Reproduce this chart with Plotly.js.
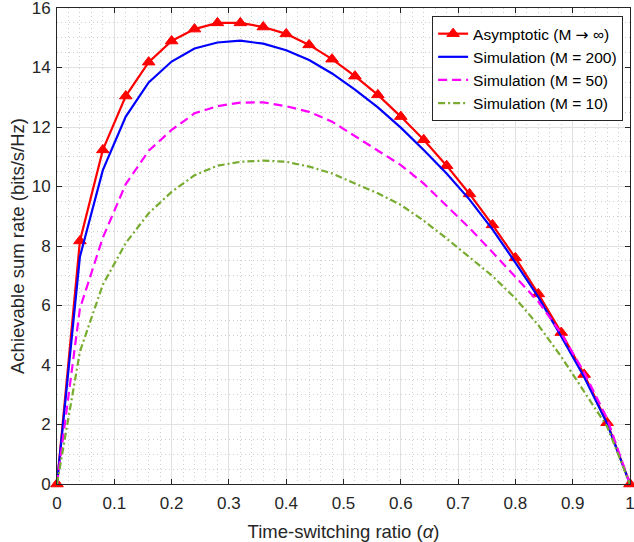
<!DOCTYPE html>
<html>
<head>
<meta charset="utf-8">
<script src="https://cdn.plot.ly/plotly-3.0.1.min.js"></script>
<style>html,body{margin:0;padding:0;background:#fff;} #chart{width:634px;height:542px;}</style>
</head>
<body>
<div id="chart"></div>
<script>
const alpha = [0, 0.04, 0.08, 0.12, 0.16, 0.20, 0.24, 0.28, 0.32, 0.36, 0.40, 0.44, 0.48, 0.52, 0.56, 0.60, 0.64, 0.68, 0.72, 0.76, 0.80, 0.84, 0.88, 0.92, 0.96, 1.00];
const asymptotic = [0, 8.17, 11.23, 13.04, 14.18, 14.89, 15.29, 15.50, 15.50, 15.36, 15.13, 14.76, 14.28, 13.71, 13.08, 12.35, 11.57, 10.70, 9.75, 8.71, 7.60, 6.39, 5.09, 3.68, 2.06, 0];
const simM200 = [0, 7.64, 10.55, 12.35, 13.50, 14.20, 14.64, 14.84, 14.90, 14.80, 14.58, 14.25, 13.80, 13.26, 12.66, 11.98, 11.23, 10.44, 9.56, 8.56, 7.44, 6.28, 4.96, 3.60, 2.03, 0];
const simM50 = [0, 5.90, 8.28, 10.08, 11.20, 11.90, 12.46, 12.70, 12.82, 12.83, 12.70, 12.51, 12.18, 11.70, 11.23, 10.72, 10.10, 9.35, 8.60, 7.79, 6.97, 6.13, 5.06, 3.75, 2.20, 0];
const simM10 = [0, 4.45, 6.70, 8.10, 9.10, 9.82, 10.38, 10.70, 10.83, 10.87, 10.83, 10.67, 10.44, 10.11, 9.77, 9.38, 8.85, 8.25, 7.62, 6.99, 6.24, 5.34, 4.28, 3.10, 1.93, 0];
const seriesNames = ['Asymptotic (M <span style="font-family:DejaVu Sans">\u2192</span> \u221E)', 'Simulation (M = 200)', 'Simulation (M = 50)', 'Simulation (M = 10)'];
const yTicks = [0, 2, 4, 6, 8, 10, 12, 14, 16];
const xTicks = [0, 0.1, 0.2, 0.3, 0.4, 0.5, 0.6, 0.7, 0.8, 0.9, 1];
const xTickText = ['0', '0.1', '0.2', '0.3', '0.4', '0.5', '0.6', '0.7', '0.8', '0.9', '1'];

const traces = [
  {x: alpha, y: asymptotic, name: seriesNames[0], type: 'scatter', mode: 'lines+markers', cliponaxis: false,
   line: {color: '#FF0000', width: 2.2}, marker: {symbol: 'triangle-up', size: 11, color: '#FF0000', line: {color: '#FF0000', width: 1}}},
  {x: alpha, y: simM200, name: seriesNames[1], type: 'scatter', mode: 'lines', cliponaxis: false,
   line: {color: '#0000FF', width: 2.2}},
  {x: alpha, y: simM50, name: seriesNames[2], type: 'scatter', mode: 'lines', cliponaxis: false,
   line: {color: '#FF00FF', width: 2.2, dash: '9px,5px'}},
  {x: alpha, y: simM10, name: seriesNames[3], type: 'scatter', mode: 'lines', cliponaxis: false,
   line: {color: '#77AC30', width: 2.2, dash: '7px,3px,2px,3px'}}
];

const axisCommon = {
  showline: true, linecolor: '#262626', linewidth: 1, mirror: 'ticks',
  ticks: 'inside', ticklen: 5, tickcolor: '#262626',
  showgrid: true, gridcolor: '#E2E2E2', gridwidth: 1, zeroline: false,
  ticklabeloverflow: 'allow',
  tickfont: {family: 'Liberation Sans, Arial, sans-serif', size: 17, color: '#262626'}
};

const layout = {
  width: 634, height: 542,
  margin: {l: 57, r: 4, t: 8, b: 58},
  paper_bgcolor: '#FFFFFF', plot_bgcolor: '#FFFFFF',
  font: {family: 'Liberation Sans, Arial, sans-serif', color: '#262626'},
  showlegend: true,
  xaxis: Object.assign({}, axisCommon, {
    range: [0, 1], tickmode: 'array', tickvals: xTicks, ticktext: xTickText,
    ticklabelstandoff: 4,
    minor: {dtick: 0.02, tick0: 0, showgrid: true, gridcolor: '#CFCFCF', griddash: '1px,3px', gridwidth: 1, ticks: ''},
    title: {text: 'Time-switching ratio (<i>\u03B1</i>)', font: {size: 18.5, color: '#262626'}, standoff: 16}
  }),
  yaxis: Object.assign({}, axisCommon, {
    range: [0, 16], tickmode: 'array', tickvals: yTicks,
    ticklabelstandoff: 2,
    minor: {dtick: 0.5, tick0: 0, showgrid: true, gridcolor: '#CFCFCF', griddash: '1px,3px', gridwidth: 1, ticks: ''},
    title: {text: 'Achievable sum rate (bits/s/Hz)', font: {size: 18.5, color: '#262626'}, standoff: 2}
  }),
  legend: {
    x: 0.988, y: 0.983, xanchor: 'right', yanchor: 'top',
    bgcolor: '#FFFFFF', bordercolor: '#262626', borderwidth: 1,
    font: {size: 15.5, color: '#000000'}, tracegroupgap: 0, itemwidth: 30
  }
};

Plotly.newPlot('chart', traces, layout, {displayModeBar: false, staticPlot: true});
</script>
</body>
</html>
